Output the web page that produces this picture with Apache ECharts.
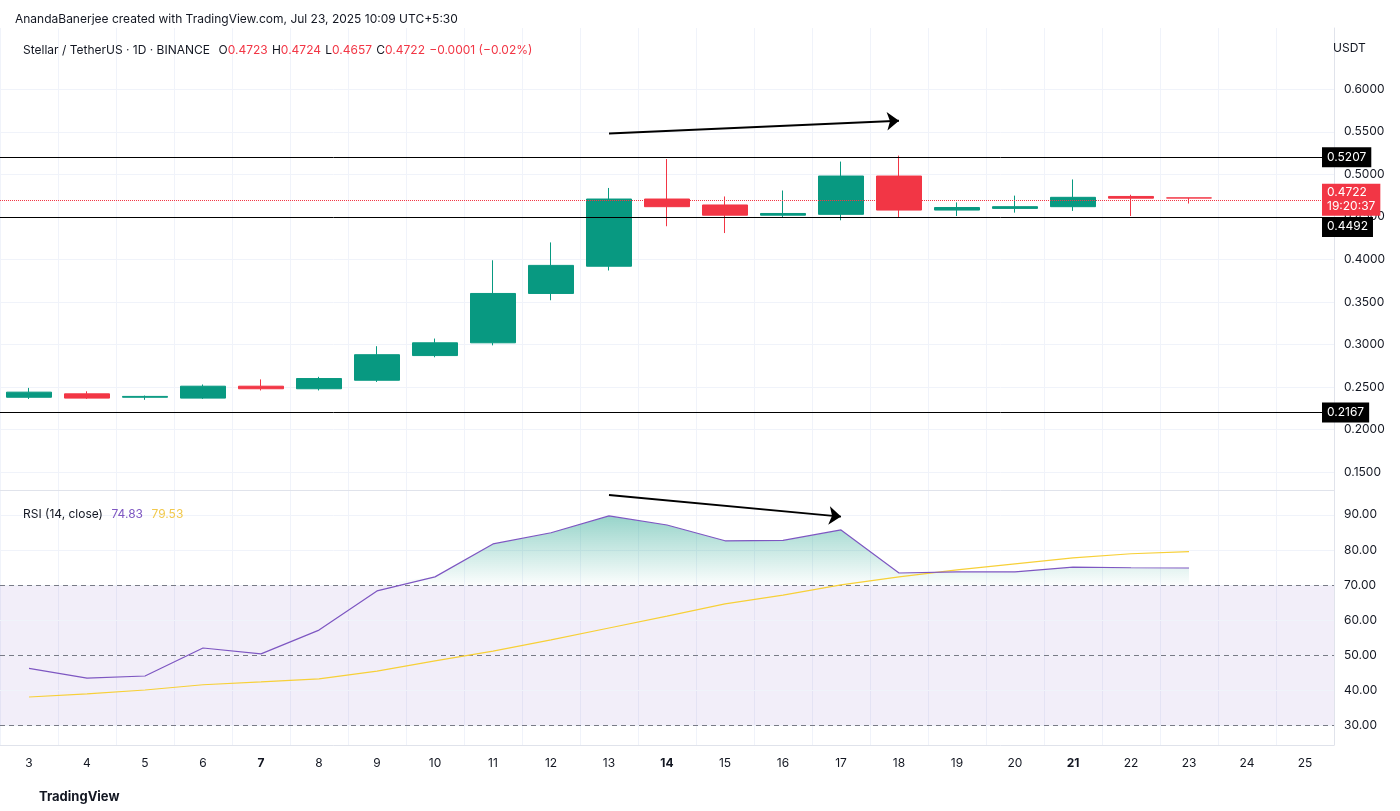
<!DOCTYPE html>
<html><head><meta charset="utf-8">
<script src="https://cdn.jsdelivr.net/npm/echarts@6/dist/echarts.min.js"></script>
<style>html,body{margin:0;padding:0;background:#fff}#c{width:1400px;height:811px}</style>
</head><body><div id="c"></div>
<script>
var days = ['3','4','5','6','7','8','9','10','11','12','13','14','15','16','17','18','19','20','21','22','23','24','25'];
// [open, close, low, high]
var candles = [
  [0.238,0.244,0.236,0.249],[0.242,0.237,0.236,0.245],[0.238,0.239,0.235,0.240],
  [0.237,0.251,0.236,0.253],[0.251,0.248,0.246,0.259],[0.248,0.260,0.246,0.262],
  [0.258,0.288,0.256,0.298],[0.287,0.302,0.285,0.307],[0.302,0.360,0.299,0.399],
  [0.360,0.393,0.352,0.420],[0.392,0.471,0.387,0.484],[0.471,0.462,0.439,0.518],
  [0.464,0.452,0.431,0.474],[0.452,0.454,0.449,0.481],[0.453,0.498,0.446,0.515],
  [0.498,0.458,0.449,0.522],[0.458,0.461,0.451,0.467],[0.460,0.462,0.455,0.475],
  [0.462,0.473,0.457,0.494],[0.474,0.472,0.451,0.476],[0.4723,0.4722,0.4657,0.4724]
];
var rsi = [46.2,43.4,44.0,52.0,50.3,57.1,68.3,72.3,81.7,84.9,89.7,87.1,82.6,82.7,85.7,73.4,73.7,73.7,75.1,74.9,74.83];
var rsiMa = [38.0,38.9,40.0,41.5,42.3,43.2,45.4,48.3,51.1,54.3,57.7,61.1,64.6,67.1,70.0,72.3,74.3,76.0,77.7,78.9,79.53];
var priceTicks = [0.15,0.20,0.25,0.30,0.35,0.40,0.45,0.50,0.55,0.60];
var rsiTicks = [30,40,50,60,70,80,90];
var levels = [0.5207,0.4492,0.2167];
var lastPrice = 0.4722;

var green = '#089981', red = '#F23645';
var gridCol = '#f0f3fa';
var font = 'Inter, "Noto Sans", sans-serif';

function gridLines(vals){
  return vals.map(function(v){return {yAxis:v,lineStyle:{color:gridCol,type:'solid',width:1},label:{show:false}};});
}
function tag(txt, bg, extra){
  var l = {show:true,position:'end',formatter:txt,backgroundColor:bg,color:'#fff',padding:[3,5],
    fontSize:12,lineHeight:14,distance:-12};
  for (var k in extra) l[k] = extra[k];
  return l;
}

var chart = echarts.init(document.getElementById('c'));
chart.setOption({
  animation:false,
  textStyle:{fontFamily:font},
  title:[
    {text:'AnandaBanerjee created with TradingView.com, Jul 23, 2025 10:09 UTC+5:30',left:10,top:8,textStyle:{fontSize:12,fontWeight:'normal',color:'#131722'}},
    {text:'{n|Stellar / TetherUS · 1D · BINANCE}  {n|O}{r|0.4723} {n|H}{r|0.4724} {n|L}{r|0.4657} {n|C}{r|0.4722} {r|−0.0001 (−0.02%)}',left:18,top:36,
      textStyle:{rich:{n:{fontSize:12,fontWeight:'normal',color:'#131722'},r:{fontSize:12,fontWeight:'normal',color:red}}}},
    {text:'USDT',left:1328,top:37,textStyle:{fontSize:12,fontWeight:'normal',color:'#131722'}},
    {text:'{n|RSI (14, close)}  {p|74.83}  {y|79.53}',left:18,top:500,
      textStyle:{rich:{n:{fontSize:12,fontWeight:'normal',color:'#131722'},p:{fontSize:12,fontWeight:'normal',color:'#7E57C2'},y:{fontSize:12,fontWeight:'normal',color:'#F2C94C'}}}},
    {text:'TradingView',left:34,top:786,textStyle:{fontSize:13,fontWeight:'bold',color:'#131722'}}
  ],
  grid:[
    {left:-5,right:66,top:28,height:462},
    {left:-5,right:66,top:490,height:255}
  ],
  xAxis:[
    {type:'category',gridIndex:0,data:days,axisLabel:{show:false},axisTick:{show:false},
      axisLine:{show:true,lineStyle:{color:'#e0e3eb'}},splitLine:{show:true,lineStyle:{color:gridCol}}},
    {type:'category',gridIndex:1,data:days,axisTick:{show:false},axisLine:{lineStyle:{color:'#e0e3eb'}},
      splitLine:{show:true,lineStyle:{color:gridCol}},
      axisLabel:{margin:12,interval:0,color:'#131722',fontSize:12,
        formatter:function(v){return (v==='7'||v==='14'||v==='21')?'{b|'+v+'}':v;},
        rich:{b:{fontWeight:'bold',fontSize:12,color:'#131722'}}}}
  ],
  yAxis:[
    {type:'value',gridIndex:0,position:'right',min:0.129,max:0.672,splitLine:{show:false},
      axisLine:{show:true,lineStyle:{color:'#e0e3eb'}},axisTick:{show:false},
      axisLabel:{customValues:priceTicks,color:'#131722',fontSize:12,margin:10,formatter:function(v){return v.toFixed(4);}}},
    {type:'value',gridIndex:1,position:'right',min:24.3,max:97.1,splitLine:{show:false},
      axisLine:{show:true,lineStyle:{color:'#e0e3eb'}},axisTick:{show:false},
      axisLabel:{customValues:rsiTicks,color:'#131722',fontSize:12,margin:10,formatter:function(v){return v.toFixed(2);}}}
  ],
  series:[
    // horizontal grid lines, drawn under everything
    {type:'line',xAxisIndex:0,yAxisIndex:0,data:[],z:0,silent:true,
      markLine:{z:0,silent:true,symbol:'none',data:gridLines(priceTicks)}},
    {type:'line',xAxisIndex:1,yAxisIndex:1,data:[],z:0,silent:true,
      markArea:{z:0,silent:true,itemStyle:{color:'rgba(126,87,194,0.1)'},data:[[{yAxis:30},{yAxis:70}]]},
      markLine:{z:1,silent:true,symbol:'none',data:gridLines(rsiTicks)
        .concat([70,50,30].map(function(v){return {yAxis:v,lineStyle:{color:'#787b86',type:[5,4],width:1},label:{show:false}};}))}},
    {type:'candlestick',xAxisIndex:0,yAxisIndex:0,data:candles,barWidth:'79%',z:3,
      itemStyle:{color:green,color0:red,borderColor:green,borderColor0:red,borderWidth:1},
      markLine:{silent:true,symbol:'none',z:5,
        data:levels.map(function(v){return {yAxis:v,lineStyle:{color:'#000',type:'solid',width:1},
            label:tag(v.toFixed(4), '#000', v===0.4492 ? {verticalAlign:'top'} : {})};})
        .concat([{yAxis:lastPrice,lineStyle:{color:red,type:'dotted',width:1},
          label:tag('0.4722\n19:20:37',red,{padding:[2,5,2,5]})}])
        .concat([[{coord:['13',0.548],symbol:'none',lineStyle:{color:'#000',width:2,type:'solid'},label:{show:false}},
                  {coord:['18',0.563],symbol:'arrow',symbolSize:[14,12]}]])
      }
    },
    {type:'line',xAxisIndex:1,yAxisIndex:1,data:rsi.map(function(v){return Math.max(v,70);}),symbol:'none',silent:true,z:2,
      lineStyle:{width:0,opacity:0},
      areaStyle:{origin:70,color:new echarts.graphic.LinearGradient(0,0,0,1,[{offset:0,color:'rgba(8,153,129,0.6)'},{offset:1,color:'rgba(8,153,129,0.02)'}])},
      markLine:{silent:true,symbol:'none',z:5,
        data:[[{coord:['13',95.7],symbol:'none',lineStyle:{color:'#000',width:2,type:'solid'},label:{show:false}},{coord:['17',89.5],symbol:'arrow',symbolSize:[14,12]}]]}
    },
    {type:'line',xAxisIndex:1,yAxisIndex:1,data:rsiMa,symbol:'none',z:3,lineStyle:{color:'#F7D038',width:1.2}},
    {type:'line',xAxisIndex:1,yAxisIndex:1,data:rsi,symbol:'none',z:4,lineStyle:{color:'#7E57C2',width:1.2}}
  ]
});
</script></body></html>
